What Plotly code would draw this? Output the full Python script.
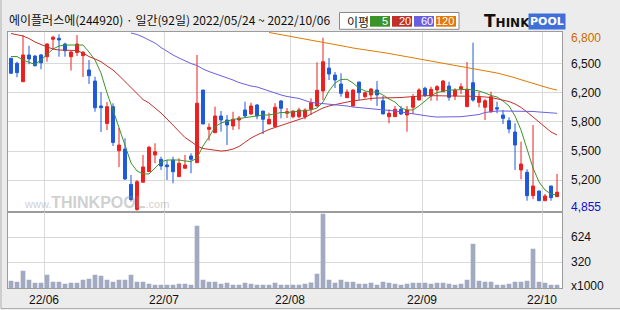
import plotly.graph_objects as go

W, H = 620, 310

# ---------------- data ----------------
opens = [6564, 6506, 6295, 6602, 6590, 6602, 6582, 6782, 6793, 6728,
         6582, 6630, 6594, 6430, 6303, 6017, 5816, 6009, 5503, 5523,
         5118, 4830, 5142, 5263, 5455, 5405, 5340, 5397, 5206, 5302,
         5443, 5366, 6200, 5749, 5710, 5902, 5856, 5787, 5856, 5971,
         5925, 6028, 5959, 5810, 5779, 6074, 5933, 5894, 5894, 5894,
         5979, 6017, 6189, 6452, 6372, 6269, 6112, 6017, 6292, 6123,
         6143, 6200, 6077, 5894, 5894, 5979, 5913, 6002, 6085, 6220,
         6131, 6200, 6181, 6246, 6131, 6212, 6009, 6284, 6059, 6002,
         5951, 5997, 5913, 5848, 5718, 5283, 5256, 4988, 5042, 4930,
         5099, 4976]
highs = [6570, 6525, 6830, 6708, 6600, 6613, 6735, 6823, 6839, 6743,
         6647, 6831, 6647, 6544, 6353, 6177, 6062, 6048, 5764, 5646,
         5225, 5168, 5455, 5561, 5589, 5435, 5397, 5435, 5417, 5455,
         5474, 6602, 6200, 5818, 6009, 5959, 5913, 5951, 5902, 6066,
         6054, 6040, 5959, 5940, 6048, 6085, 5994, 5965, 5997, 5990,
         6105, 6518, 6800, 6567, 6407, 6392, 6208, 6208, 6292, 6181,
         6220, 6303, 6131, 5979, 6017, 6017, 6017, 6154, 6220, 6238,
         6238, 6257, 6315, 6295, 6220, 6277, 6521, 6743, 6181, 6097,
         6181, 6066, 5971, 5887, 5818, 5607, 5291, 5799, 5042, 5007,
         5099, 5237]
lows = [6385, 6346, 6295, 6495, 6470, 6438, 6525, 6667, 6582, 6582,
        6424, 6590, 6349, 6269, 5951, 5718, 5741, 5558, 5317, 5168,
        4921, 4815, 5142, 5263, 5359, 5283, 5168, 5130, 5206, 5302,
        5245, 5366, 5810, 5619, 5710, 5722, 5569, 5741, 5749, 5887,
        5913, 5864, 5695, 5810, 5779, 5875, 5879, 5875, 5875, 5864,
        5913, 6009, 6085, 6315, 6223, 6123, 6112, 6013, 6085, 6105,
        6077, 6017, 5925, 5818, 5894, 5913, 5722, 5925, 6085, 6120,
        6077, 6077, 6181, 6077, 6085, 6154, 6009, 6066, 6002, 5856,
        5940, 5933, 5810, 5704, 5283, 5176, 4930, 4950, 4930, 4930,
        4930, 4976]
closes = [6392, 6399, 6602, 6556, 6479, 6513, 6728, 6805, 6774, 6651,
          6636, 6728, 6633, 6364, 5997, 5997, 6009, 5598, 5569, 5179,
          4944, 5148, 5317, 5543, 5492, 5328, 5320, 5263, 5359, 5340,
          5405, 6048, 5810, 5772, 5902, 5856, 5799, 5864, 5879, 5902,
          6017, 5902, 5864, 5864, 6002, 5990, 5951, 5959, 5971, 5971,
          6054, 6197, 6524, 6384, 6315, 6162, 6177, 6200, 6169, 6169,
          6212, 6143, 5925, 5933, 5979, 5925, 5971, 6123, 6200, 6135,
          6208, 6238, 6303, 6116, 6200, 6238, 6208, 6085, 6116, 6077,
          6123, 5982, 5875, 5753, 5569, 5351, 4988, 5099, 4930, 4984,
          4965, 5027]
volumes = [92, 80, 214, 105, 68, 68, 165, 80, 80, 56,
           68, 68, 105, 117, 165, 153, 105, 80, 105, 105,
           165, 80, 80, 56, 44, 44, 44, 44, 56, 56,
           44, 762, 105, 80, 80, 56, 68, 44, 44, 68,
           56, 44, 44, 44, 68, 44, 44, 44, 44, 56,
           72, 178, 907, 105, 68, 105, 80, 80, 56, 56,
           68, 44, 80, 68, 56, 44, 56, 68, 68, 68,
           56, 68, 68, 56, 44, 56, 105, 543, 92, 80,
           80, 44, 44, 56, 80, 80, 92, 482, 80, 68,
           44, 44]
ma5 = [6584, 6584, 6544, 6516, 6493, 6544, 6602, 6670, 6705, 6716,
       6716, 6716, 6716, 6636, 6544, 6395, 6166, 5971, 5764, 5546,
       5363, 5271, 5237, 5237, 5305, 5374, 5397, 5397, 5397, 5386,
       5380, 5420, 5558, 5661, 5776, 5822, 5845, 5862, 5873, 5885,
       5896, 5908, 5913, 5913, 5925, 5942, 5942, 5948, 5954, 5959,
       5971, 5994, 6062, 6189, 6280, 6321, 6323, 6280, 6223, 6189,
       6177, 6177, 6143, 6097, 6062, 5994, 5971, 5971, 6017, 6074,
       6131, 6171, 6189, 6200, 6200, 6206, 6208, 6200, 6189, 6166,
       6137, 6120, 6074, 6017, 5902, 5741, 5523, 5305, 5145, 5053,
       5007, 4996]
ma20 = [6848, 6837, 6820, 6791, 6751, 6722, 6693, 6670, 6659, 6659,
        6655, 6653, 6624, 6584, 6556, 6525, 6475, 6430, 6366, 6298,
        6223, 6154, 6091, 6051, 5994, 5936, 5867, 5799, 5724, 5655,
        5609, 5558, 5529, 5518, 5506, 5500, 5506, 5523, 5552, 5598,
        5649, 5684, 5718, 5747, 5770, 5793, 5822, 5845, 5862, 5885,
        5925, 5959, 5994, 6017, 6034, 6045, 6062, 6074, 6085, 6097,
        6103, 6108, 6112, 6112, 6112, 6114, 6120, 6129, 6135, 6135,
        6135, 6135, 6135, 6135, 6134, 6131, 6131, 6128, 6126, 6123,
        6114, 6099, 6085, 6068, 6040, 6000, 5948, 5890, 5833, 5776,
        5718, 5684]
ma60_start = 20
ma60 = [6854, 6837, 6808, 6774, 6739, 6688, 6642, 6602, 6567, 6533,
        6504, 6481, 6441, 6412, 6389, 6366, 6338, 6315, 6286, 6263,
        6246, 6235, 6212, 6183, 6160, 6143, 6126, 6114, 6103, 6080,
        6057, 6051, 6045, 6040, 6034, 6028, 6017, 6005, 5999, 5994,
        5988, 5982, 5971, 5965, 5959, 5948, 5936, 5925, 5913, 5902,
        5896, 5890, 5890, 5890, 5890, 5894, 5902, 5908, 5919, 5942,
        5954, 5959, 5959, 5959, 5959, 5959, 5959, 5954, 5948, 5942,
        5936, 5933]
ma120_start = 43
ma120 = [6860, 6848, 6837, 6823, 6811, 6800, 6788, 6776, 6762, 6751,
         6739, 6722, 6710, 6696, 6682, 6670, 6659, 6647, 6639, 6630,
         6619, 6607, 6596, 6584, 6567, 6552, 6544, 6533, 6521, 6510,
         6496, 6483, 6472, 6460, 6449, 6435, 6421, 6407, 6395, 6378,
         6361, 6340, 6318, 6295, 6275, 6254, 6235, 6215, 6200]

month_first_idx = [6, 26, 47, 69, 89]
month_labels = ["22/06", "22/07", "22/08", "22/09", "22/10"]
price_grid_vals = [6500, 6166.7, 5833.3, 5500, 5166.7]
price_grid_labels = ["6,500", "6,200", "5,800", "5,500", "5,200"]
vol_grid_vals = [624, 320]
vol_grid_labels = ["624", "320"]
max_price, max_label = 6800, "6,800"
min_price, min_label = 4855, "4,855"
title_text = "에이플러스에(244920) · 일간(92일) 2022/05/24 ~ 2022/10/06"
ma_names = ["5", "20", "60", "120"]

# ---------------- styles ----------------
BG = "#ececec"
GRID = "#d9d9d9"
BORDER = "#9c9c9c"
UP = "#f01e1e"
DOWN = "#1e5adc"
VOLC = "#a2aac2"
MA_COLORS = ["#3c9428", "#c0302a", "#6a5ee0", "#e07a00"]
NUMFONT = "Liberation Sans"
KRFONT = "Noto Sans CJK KR"


def fx(px):
    return px / W


def fy(py):
    return 1 - py / H


n = len(closes)
idx = list(range(n))

fig = go.Figure()

# moving averages (behind candles)
fig.add_trace(go.Scatter(x=idx, y=ma5, mode="lines",
                         line=dict(color=MA_COLORS[0], width=1),
                         xaxis="x", yaxis="y", hoverinfo="skip"))
fig.add_trace(go.Scatter(x=idx, y=ma20, mode="lines",
                         line=dict(color=MA_COLORS[1], width=1),
                         xaxis="x", yaxis="y", hoverinfo="skip"))
fig.add_trace(go.Scatter(x=idx[ma60_start:ma60_start + len(ma60)], y=ma60,
                         mode="lines", line=dict(color=MA_COLORS[2], width=1),
                         xaxis="x", yaxis="y", hoverinfo="skip"))
fig.add_trace(go.Scatter(x=idx[ma120_start:ma120_start + len(ma120)], y=ma120,
                         mode="lines", line=dict(color=MA_COLORS[3], width=1),
                         xaxis="x", yaxis="y", hoverinfo="skip"))

fig.add_trace(go.Candlestick(
    x=idx, open=opens, high=highs, low=lows, close=closes,
    increasing=dict(line=dict(color=UP, width=1), fillcolor=UP),
    decreasing=dict(line=dict(color=DOWN, width=1), fillcolor=DOWN),
    whiskerwidth=0, xaxis="x", yaxis="y", hoverinfo="skip"))

fig.add_trace(go.Bar(x=idx, y=volumes, width=0.78,
                     marker=dict(color=VOLC, line=dict(width=0)),
                     xaxis="x2", yaxis="y2", hoverinfo="skip"))

grid_x = [i - 0.5 for i in month_first_idx]
xcommon = dict(domain=[fx(8), fx(562)], range=[-0.5, 91.83],
               tickvals=grid_x, showgrid=True, gridcolor=GRID, gridwidth=1,
               showticklabels=False, ticks="", zeroline=False,
               showline=True, linecolor=BORDER, linewidth=1, mirror=True)

fig.update_layout(
    width=W, height=H, margin=dict(l=0, r=0, t=0, b=0),
    paper_bgcolor=BG, plot_bgcolor="white", showlegend=False,
    boxgap=0.3,
    xaxis=dict(xcommon, anchor="y", rangeslider=dict(visible=False)),
    xaxis2=dict(xcommon, anchor="y2", matches="x"),
    yaxis=dict(domain=[fy(211.7), fy(31.7)], range=[4804, 6869],
               tickvals=price_grid_vals, showgrid=True, gridcolor=GRID,
               showticklabels=False, ticks="", zeroline=False,
               showline=True, linecolor=BORDER, mirror=True, anchor="x"),
    yaxis2=dict(domain=[fy(288.3), fy(211.7)], range=[0, 932],
                tickvals=vol_grid_vals, showgrid=True, gridcolor=GRID,
                showticklabels=False, ticks="", zeroline=False,
                showline=True, linecolor=BORDER, mirror=True, anchor="x2"),
)

ann = []
# right-side price labels
for v, t in zip(price_grid_vals, price_grid_labels):
    ann.append(dict(x=fx(569), xref="paper", y=v, yref="y", text=t,
                    xanchor="left", yanchor="middle", showarrow=False,
                    font=dict(family=NUMFONT, size=12, color="#111111")))
ann.append(dict(x=fx(569), xref="paper", y=max_price, yref="y", text=max_label,
                xanchor="left", yanchor="middle", showarrow=False,
                font=dict(family=NUMFONT, size=12, color="#cc6a00")))
ann.append(dict(x=fx(569), xref="paper", y=min_price, yref="y", text=min_label,
                xanchor="left", yanchor="middle", showarrow=False,
                font=dict(family=NUMFONT, size=12, color="#1010d0")))
for v, t in zip(vol_grid_vals, vol_grid_labels):
    ann.append(dict(x=fx(569), xref="paper", y=v, yref="y2", text=t,
                    xanchor="left", yanchor="middle", showarrow=False,
                    font=dict(family=NUMFONT, size=12, color="#111111")))
ann.append(dict(x=fx(569), xref="paper", y=fy(285.7), yref="paper", text="x1000",
                xanchor="left", yanchor="middle", showarrow=False,
                font=dict(family=NUMFONT, size=12, color="#111111")))
# date labels
for gx, t in zip(grid_x, month_labels):
    ann.append(dict(x=gx, xref="x", y=fy(300), yref="paper", text=t,
                    xanchor="center", yanchor="middle", showarrow=False,
                    font=dict(family=NUMFONT, size=12, color="#111111")))
# title
ann.append(dict(x=fx(7), xref="paper", y=fy(20), yref="paper", text=title_text,
                xanchor="left", yanchor="middle", showarrow=False,
                font=dict(family=KRFONT, size=12, color="#111111")))
# MA legend box
shapes = [dict(type="rect", xref="paper", yref="paper",
               x0=fx(339.5), x1=fx(459), y0=fy(29.3), y1=fy(12.5),
               line=dict(color="#8a8a8a", width=1), fillcolor="white")]
ann.append(dict(x=fx(345), xref="paper", y=fy(21), yref="paper", text="이평",
                xanchor="left", yanchor="middle", showarrow=False,
                font=dict(family=KRFONT, size=12, color="#111111")))
box_x = [(370, 390), (392, 412), (414, 434), (436, 456)]
for (x0, x1), c, t in zip(box_x, MA_COLORS, ma_names):
    shapes.append(dict(type="rect", xref="paper", yref="paper",
                       x0=fx(x0), x1=fx(x1), y0=fy(26.7), y1=fy(16),
                       line=dict(width=0), fillcolor=c))
    ann.append(dict(x=fx(x1 - 0.5), xref="paper", y=fy(21.5), yref="paper", text=t,
                    xanchor="right", yanchor="middle", showarrow=False,
                    borderpad=0,
                    font=dict(family=NUMFONT, size=11, color="white")))
# THINKPOOL logo
ann.append(dict(x=fx(482), xref="paper", y=fy(21.5), yref="paper",
                text="<b>T<span style='font-size:12px'>HINK</span></b>",
                xanchor="left", yanchor="middle", showarrow=False,
                font=dict(family="DejaVu Sans", size=17, color="#111111")))
ann.append(dict(x=fx(528), xref="paper", y=fy(22), yref="paper",
                text="<b>POOL</b>", bgcolor="#3f6fd8", borderpad=1,
                xanchor="left", yanchor="middle", showarrow=False,
                font=dict(family="DejaVu Sans", size=11, color="white")))
# watermark
ann.append(dict(x=fx(22), xref="paper", y=fy(203), yref="paper",
                text="<span style='font-size:11px'>www.</span><b>THINKPOOL</b>"
                     "<span style='font-size:11px'>.com</span>",
                xanchor="left", yanchor="middle", showarrow=False, opacity=0.4,
                font=dict(family="Liberation Sans", size=16, color="#8c8c8c")))
# outer frame (left + bottom)
shapes.append(dict(type="line", xref="paper", yref="paper",
                   x0=fx(1), x1=fx(1), y0=fy(308.5), y1=fy(0),
                   line=dict(color="#b0b0b0", width=1)))
shapes.append(dict(type="line", xref="paper", yref="paper",
                   x0=fx(1), x1=fx(620), y0=fy(308.5), y1=fy(308.5),
                   line=dict(color="#b0b0b0", width=1)))

fig.update_layout(annotations=ann, shapes=shapes)
fig.write_html("out.html", config=dict(displayModeBar=False))
